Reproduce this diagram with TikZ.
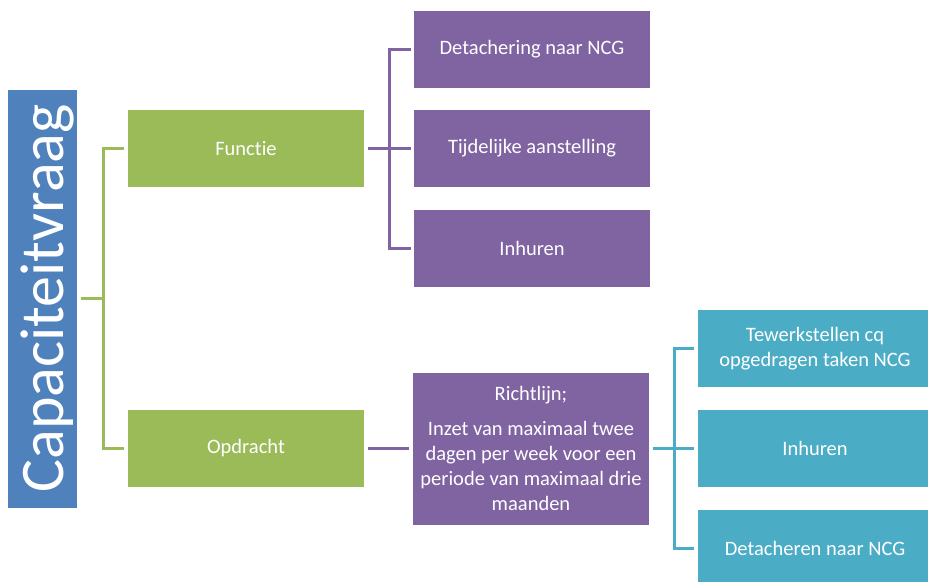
\documentclass[tikz,border=0pt]{standalone}
\usepackage{fontspec}
\setmainfont{Carlito}[Ligatures={NoCommon}]
\definecolor{capblue}{HTML}{4F81BD}
\definecolor{capgreen}{HTML}{9BBB59}
\definecolor{cappurple}{HTML}{8064A2}
\definecolor{capteal}{HTML}{4BACC6}
\begin{document}
\begin{tikzpicture}[x=1pt,y=-1pt,
  box/.style={draw=none,text=white,inner sep=0pt,align=center,
    font=\fontsize{20.5}{25}\selectfont},
  gbox/.style={box,fill=capgreen,minimum width=236pt,minimum height=77pt},
  pbox/.style={box,fill=cappurple,minimum width=236pt,minimum height=77pt},
  tbox/.style={box,fill=capteal,minimum width=234pt,minimum height=77pt},
  gline/.style={draw=capgreen,line width=3pt},
  pline/.style={draw=cappurple,line width=3pt},
  tline/.style={draw=capteal,line width=3pt}]
  \useasboundingbox (0,0) rectangle (928,581);
  \clip (0,0) rectangle (928,581);
  \node[box,fill=capblue,rotate=90,minimum width=418pt,minimum height=69pt,
    text depth=0pt,font=\fontsize{62}{70}\selectfont] (cap) at (42.5,298.5) {Capaciteitvraag};
  \node[gbox] (fun) at (246,148.5) {Functie};
  \node[gbox] (opd) at (246,448.5) {Opdracht};
  \node[pbox] (p1) at (532,49.5) {Detachering naar NCG};
  \node[pbox] (p2) at (532,148.5) {Tijdelijke aanstelling};
  \node[pbox] (p3) at (532,248.5) {Inhuren};
  \node[pbox,minimum height=152pt] (rl) at (531,448.5)
    {Richtlijn;\\[10pt]Inzet van maximaal twee\\dagen per week voor een\\periode van maximaal drie\\maanden};
  \node[tbox] (t1) at (815,348.5) {Tewerkstellen cq\\opgedragen taken NCG};
  \node[tbox] (t2) at (815,448.5) {Inhuren};
  \node[tbox] (t3) at (815,548.5) {Detacheren naar NCG};
  \coordinate (cj) at ([xshift=26pt]cap.south);
  \coordinate (fj) at ([xshift=25pt]fun.east);
  \coordinate (rj) at ([xshift=25pt]rl.east);
  \draw[gline] ([xshift=4pt]cap.south) -- (cj);
  \draw[gline] ([xshift=-4pt]fun.west) -| (cj) |- ([xshift=-4pt]opd.west);
  \draw[pline] ([xshift=4pt]fun.east) -- ([xshift=-3pt]p2.west);
  \draw[pline] ([xshift=-3pt]p1.west) -| (fj) |- ([xshift=-3pt]p3.west);
  \draw[pline] ([xshift=4pt]opd.east) -- ([xshift=-4pt]rl.west);
  \draw[tline] ([xshift=4pt]rl.east) -- ([xshift=-4pt]t2.west);
  \draw[tline] ([xshift=-4pt]t1.west) -| (rj) |- ([xshift=-4pt]t3.west);
\end{tikzpicture}
\end{document}
